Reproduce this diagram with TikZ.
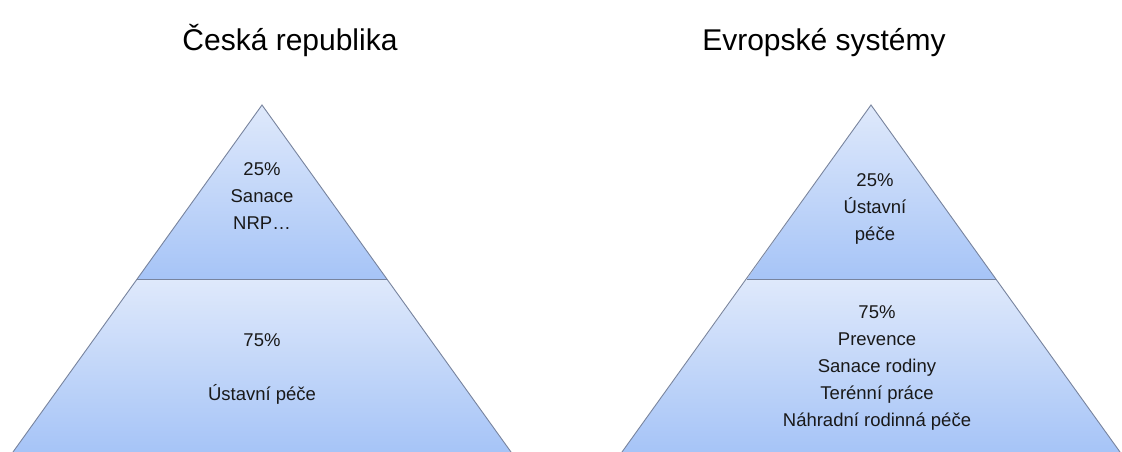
\documentclass[tikz,border=0pt]{standalone}
\usepackage{fontspec}
\setmainfont{Liberation Sans}
\definecolor{lightb}{RGB}{223,233,251}
\definecolor{darkb}{RGB}{166,196,247}
\definecolor{edgec}{RGB}{120,132,158}
\definecolor{textc}{RGB}{25,25,25}
\tikzset{
  titletext/.style={font=\fontsize{30}{36}\selectfont, text=black, inner sep=0pt, anchor=base},
  bodytext/.style={font=\fontsize{18.5}{27}\selectfont, text=textc, inner sep=0pt, align=center},
  segment/.style={top color=lightb, bottom color=darkb, draw=none},
  edge/.style={draw=edgec, line width=0.9pt}
}
\begin{document}
\begin{tikzpicture}[x=1pt,y=-1pt]
\useasboundingbox (0,0) rectangle (1122,452);
\fill[white] (0,0) rectangle (1122,452);
% titles
\node[titletext] (t1) at (290,51) {Česká republika};
\node[titletext] (t2) at (824,51) {Evropské systémy};
% left pyramid
\coordinate (LA) at (262,105);
\coordinate (LDl) at (137,279);
\coordinate (LDr) at (387,279);
\coordinate (LBl) at (13,452);
\coordinate (LBr) at (511,452);
\shade[segment] (LA) -- (LDr) -- (LDl) -- cycle;
\shade[segment] (LDl) -- (LDr) -- (LBr) -- (LBl) -- cycle;
\draw[edge] (LBl) -- (LA) -- (LBr);
\draw[edge] (LDl) -- (LDr);
% right pyramid
\coordinate (RA) at (871,105);
\coordinate (RDl) at (747,279);
\coordinate (RDr) at (996,279);
\coordinate (RBl) at (622,452);
\coordinate (RBr) at (1120,452);
\shade[segment] (RA) -- (RDr) -- (RDl) -- cycle;
\shade[segment] (RDl) -- (RDr) -- (RBr) -- (RBl) -- cycle;
\draw[edge] (RBl) -- (RA) -- (RBr);
\draw[edge] (RDl) -- (RDr);
% left texts
\node[bodytext] (l1) at (262,196) {25\%\\Sanace\\NRP\ldots};
\node[bodytext] (l2) at (262,340) {75\%};
\node[bodytext] (l3) at (262,394) {Ústavní péče};
% right texts
\node[bodytext] (r1) at (875,209) {25\%\\Ústavní\\péče};
\node[bodytext] (r2) at (877,368) {75\%\\Prevence\\Sanace rodiny\\Terénní práce\\Náhradní rodinná péče};
\end{tikzpicture}
\end{document}
